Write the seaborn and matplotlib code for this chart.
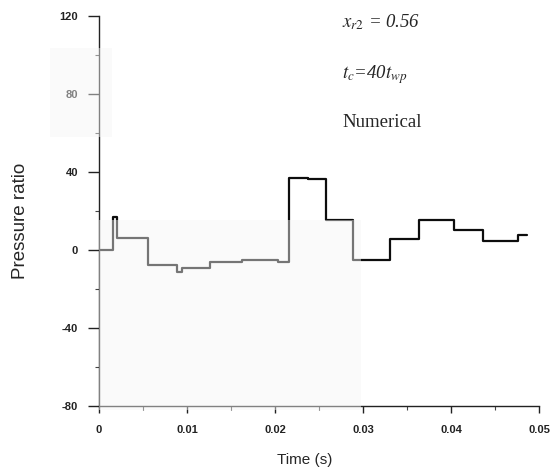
import matplotlib
matplotlib.use("Agg")
import matplotlib.pyplot as plt
from matplotlib.patches import Rectangle
from matplotlib.ticker import MultipleLocator
import seaborn as sns
import pandas as pd

# Step-wise pressure ratio history (start time of each level, level value)
time_s = [0.0, 0.00163, 0.00208, 0.00553, 0.00883, 0.0094, 0.0126, 0.0162,
          0.0203, 0.0216, 0.0237, 0.0258, 0.0289, 0.0330, 0.0363, 0.0403,
          0.0436, 0.0476, 0.0486]
pressure_ratio = [0.0, 17.1, 6.0, -7.5, -11.5, -9.2, -6.0, -5.1,
                  -6.3, 36.8, 36.2, 15.4, -5.0, 5.4, 15.2, 10.1,
                  4.8, 7.5, 7.5]

x_ticks = [0, 0.01, 0.02, 0.03, 0.04, 0.05]
x_tick_labels = ["0", "0.01", "0.02", "0.03", "0.04", "0.05"]
y_ticks = [-80, -40, 0, 40, 80, 120]
y_tick_labels = ["-80", "-40", "0", "40", "80", "120"]

df = pd.DataFrame({"Time (s)": time_s, "Pressure ratio": pressure_ratio})

sns.set_style("ticks")
plt.rcParams["font.family"] = ["Liberation Sans", "DejaVu Sans"]
plt.rcParams["mathtext.fontset"] = "stix"

fig = plt.figure(figsize=(5.56, 4.72), dpi=100)
ax = fig.add_axes([0.178, 0.140, 0.792, 0.826])

sns.lineplot(data=df, x="Time (s)", y="Pressure ratio", ax=ax,
             drawstyle="steps-post", color="#0d0d0d", linewidth=1.6)

ax.set_xlim(0, 0.05)
ax.set_ylim(-80, 120)
ax.set_xticks(x_ticks)
ax.set_xticklabels(x_tick_labels)
ax.set_yticks(y_ticks)
ax.set_yticklabels(y_tick_labels)
ax.xaxis.set_minor_locator(MultipleLocator(0.005))
ax.yaxis.set_minor_locator(MultipleLocator(20))

ax.tick_params(axis="both", which="major", direction="out", width=1.0,
               labelsize=8, colors="#222222")
ax.tick_params(axis="y", which="major", length=8, pad=7)
ax.tick_params(axis="x", which="major", length=5, pad=9)
ax.tick_params(axis="both", which="minor", direction="out", length=3,
               width=0.8, colors="#444444")
for lbl in ax.get_xticklabels() + ax.get_yticklabels():
    lbl.set_fontweight("bold")

sns.despine(ax=ax)
for side in ("left", "bottom"):
    ax.spines[side].set_linewidth(1.0)
    ax.spines[side].set_color("#222222")

ax.set_xlabel("Time (s)", fontsize=11)
ax.set_ylabel("Pressure ratio", fontsize=13.5)
ax.xaxis.set_label_coords(0.468, -0.12)
ax.yaxis.set_label_coords(-0.16, 0.474)

serif = ["Liberation Serif", "DejaVu Serif"]
ax.text(0.0276, 117, r"$x_{r2}$ = 0.56", fontsize=13.5,
        ha="left", va="center", family=serif, style="italic")
ax.text(0.0276, 90, r"$t_c$=40$t_{wp}$", fontsize=13.5,
        ha="left", va="center", family=serif, style="italic")
ax.text(0.0276, 65.6, "Numerical", fontsize=13.5, ha="left", va="center",
        family=serif)

# faint greyish haze patches from the printed source
for (x0, y0, w, h) in [(99, 220, 262, 190), (50, 48, 62, 89)]:
    fig.patches.append(Rectangle((x0 / 556, 1 - (y0 + h) / 472), w / 556, h / 472,
                                 transform=fig.transFigure,
                                 facecolor="#f6f6f6", alpha=0.45,
                                 edgecolor="none", zorder=10))

fig.savefig("out.png", dpi=100)
